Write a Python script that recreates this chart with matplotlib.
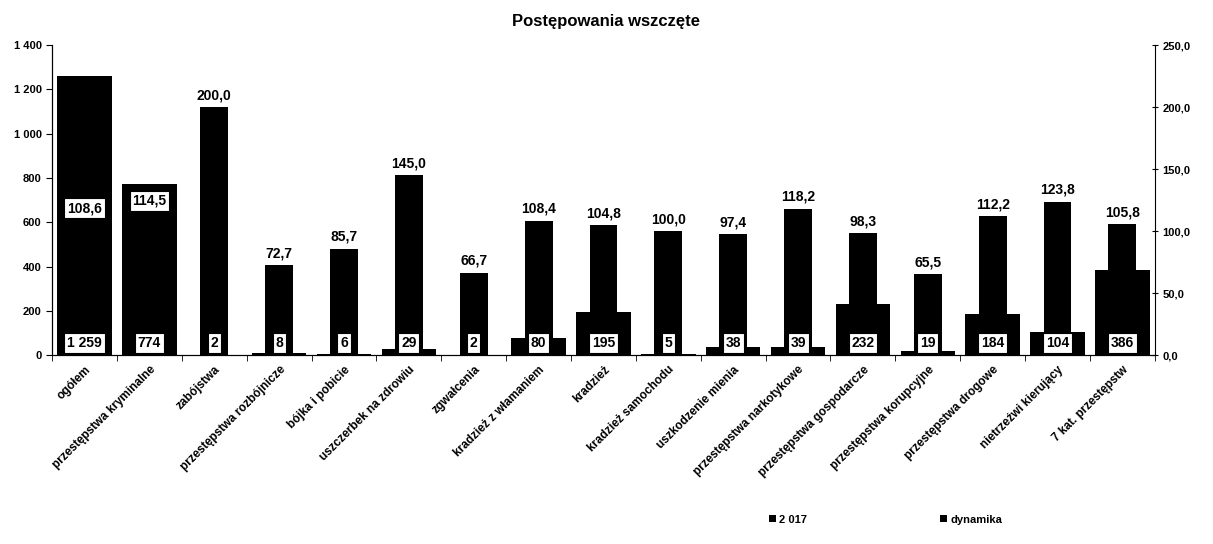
import numpy as np
import matplotlib.pyplot as plt
from matplotlib.ticker import FuncFormatter, MultipleLocator

plt.rcParams['font.family'] = ['Liberation Sans', 'DejaVu Sans']
plt.rcParams['font.weight'] = 'bold'

# Data
categories = ['ogółem', 'przestępstwa kryminalne', 'zabójstwa', 'przestępstwa rozbójnicze',
              'bójka i pobicie', 'uszczerbek na zdrowiu', 'zgwałcenia', 'kradzież z włamaniem',
              'kradzież', 'kradzież samochodu', 'uszkodzenie mienia', 'przestępstwa narkotykowe',
              'przestępstwa gospodarcze', 'przestępstwa korupcyjne', 'przestępstwa drogowe',
              'nietrzeźwi kierujący', '7 kat. przestępstw']
values_2017 = [1259, 774, 2, 8, 6, 29, 2, 80, 195, 5, 38, 39, 232, 19, 184, 104, 386]
dynamika = [108.6, 114.5, 200.0, 72.7, 85.7, 145.0, 66.7, 108.4, 104.8, 100.0, 97.4,
            118.2, 98.3, 65.5, 112.2, 123.8, 105.8]

x = np.arange(len(categories))

fig = plt.figure(figsize=(12.13, 5.44), dpi=100)
ax = fig.add_axes([0.043, 0.347, 0.909, 0.570])
ax2 = ax.twinx()

ax.bar(x, values_2017, width=0.84, color='black', label='2 017', zorder=2)
ax2.bar(x, dynamika, width=0.43, color='black', label='dynamika', zorder=3)

ax.set_xlim(-0.5, len(categories) - 0.5)
ax.set_ylim(0, 1400)
ax2.set_ylim(0, 250)

ax.yaxis.set_major_locator(MultipleLocator(200))
ax.yaxis.set_major_formatter(FuncFormatter(lambda v, p: f'{int(v):,}'.replace(',', ' ')))
ax2.yaxis.set_major_locator(MultipleLocator(50))
ax2.yaxis.set_major_formatter(FuncFormatter(lambda v, p: f'{v:.1f}'.replace('.', ',')))

ax.set_xticks(x)
ax.set_xticklabels(categories, rotation=45, ha='right', rotation_mode='anchor', fontsize=8.5)
ax.set_xticks(np.arange(-0.5, len(categories)), minor=True)
ax.tick_params(axis='x', which='major', length=0, pad=6)
ax.tick_params(axis='x', which='minor', length=4)
ax.tick_params(axis='y', labelsize=8, length=4)
ax2.tick_params(axis='y', labelsize=8, length=4, direction='inout')

for a in (ax, ax2):
    a.spines['top'].set_visible(False)
ax.spines['right'].set_visible(False)

box = dict(boxstyle='square,pad=0.2', facecolor='white', edgecolor='black', linewidth=0.8)

# value labels of 2017 near the bottom (drawn on the top axes so they stay visible)
for xi, v in zip(x, values_2017):
    ax2.text(xi, 10, f'{v:,}'.replace(',', ' '), ha='center', va='center',
             fontsize=10, bbox=box, zorder=5)

# dynamika labels above narrow bars
for xi, d, v in zip(x, dynamika, values_2017):
    y_left = d / 250 * 1400
    lab = f'{d:.1f}'.replace('.', ',')
    if v > y_left + 60:
        ax2.text(xi, d + 10, lab, ha='center', va='center', fontsize=10, bbox=box, zorder=5)
    else:
        ax2.text(xi, d + 4, lab, ha='center', va='bottom', fontsize=10, zorder=5)

fig.suptitle('Postępowania wszczęte', y=0.975, fontsize=12, fontweight='bold')

h1, l1 = ax.get_legend_handles_labels()
h2, l2 = ax2.get_legend_handles_labels()
fig.legend(h1 + h2, l1 + l2, loc='center', bbox_to_anchor=(0.73, 0.045), ncol=2,
           frameon=False, fontsize=8, handlelength=0.6, handleheight=0.6,
           handletextpad=0.3, columnspacing=12)

fig.savefig('out.png', dpi=100)
